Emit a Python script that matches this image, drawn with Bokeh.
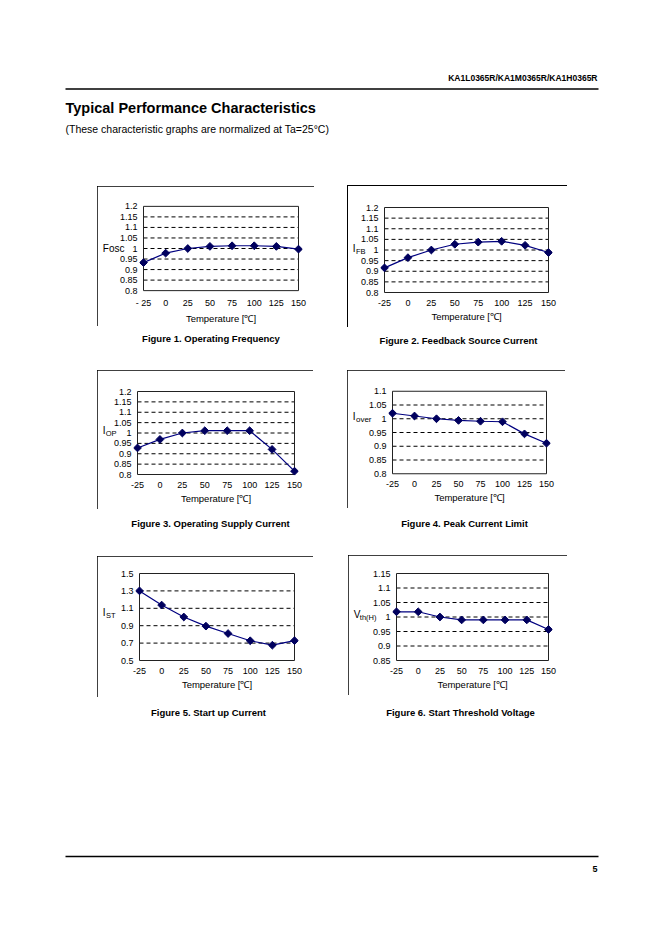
import math
from bokeh.plotting import figure
from bokeh.layouts import column, row
from bokeh.models import Range1d, FixedTicker, NumeralTickFormatter, Label, Spacer, LinearAxis
from bokeh.embed import file_html
from bokeh.resources import INLINE

# ---------------- data ----------------
temps = [-25, 0, 25, 50, 75, 100, 125, 150]
temp_labels = ["-25", "0", "25", "50", "75", "100", "125", "150"]
temp_labels_fig1 = ["- 25", "0", "25", "50", "75", "100", "125", "150"]

fosc = [0.933, 0.978, 1.0, 1.010, 1.013, 1.013, 1.010, 0.997]
ifb = [0.916, 0.964, 1.0, 1.027, 1.037, 1.041, 1.022, 0.988]
iop = [0.928, 0.969, 1.0, 1.011, 1.011, 1.011, 0.921, 0.816]
iover = [1.020, 1.010, 1.0, 0.994, 0.991, 0.989, 0.945, 0.911]
ist = [1.300, 1.137, 1.0, 0.895, 0.810, 0.727, 0.676, 0.728]
vth = [1.018, 1.018, 1.0, 0.990, 0.990, 0.990, 0.990, 0.957]

yticks_12 = [0.8, 0.85, 0.9, 0.95, 1.0, 1.05, 1.1, 1.15, 1.2]
yticks_11 = [0.8, 0.85, 0.9, 0.95, 1.0, 1.05, 1.1]
yticks_15 = [0.5, 0.7, 0.9, 1.1, 1.3, 1.5]
yticks_115 = [0.85, 0.9, 0.95, 1.0, 1.05, 1.1, 1.15]

header_text = "KA1L0365R/KA1M0365R/KA1H0365R"
title_text = "Typical Performance Characteristics"
subtitle_text = "(These characteristic graphs are normalized at Ta=25°C)"
xlabel_text = "Temperature [℃]"
captions = ["Figure 1. Operating Frequency", "Figure 2. Feedback Source Current",
            "Figure 3. Operating Supply Current", "Figure 4. Peak Current Limit",
            "Figure 5. Start up Current", "Figure 6. Start Threshold Voltage"]
page_number = "5"

# ---------------- style ----------------
FONT = "Liberation Sans"
NAVY = "#000080"
MARK = "#00005e"
PAD = 4          # px of frame padding around the plot area so end markers are not clipped
TICK_FS = 9      # tick label font size (px)
TICK_ST = 2      # y tick label standoff (px)
AXIS_EXTRA = 3.6 # extra px that each stacked left axis occupies beyond standoff + text

# Arial / Liberation Sans advance widths (em) for width estimates
ADV = {"F": .611, "o": .556, "s": .5, "c": .5, "I": .278, "B": .667, "O": .778, "P": .667,
       "v": .5, "e": .556, "r": .333, "S": .667, "T": .611, "V": .667, "t": .278, "h": .556,
       "(": .333, ")": .333, "H": .722, ".": .278}


def text_w(txt, size):
    return sum(ADV.get(ch, .556) for ch in txt) * size


def chart(box, plot, ys, yticks, xlabels, ylab, border="full"):
    bx0, by0, bx1, by1 = box
    px0, py0, px1, py1 = plot
    w, h = bx1 - bx0, by1 - by0
    xmin, xmax = min(temps), max(temps)
    ymin, ymax = yticks[0], yticks[-1]
    dx = (xmax - xmin) * PAD / (px1 - px0)
    dy = (ymax - ymin) * PAD / (py1 - py0)
    p = figure(width=w, height=h,
               x_range=Range1d(xmin - dx, xmax + dx),
               y_range=Range1d(ymin - dy, ymax + dy),
               output_backend="svg", toolbar_location=None,
               x_axis_type=None, y_axis_type=None,
               min_border_left=px0 - PAD - bx0, min_border_right=bx1 - (px1 + PAD),
               min_border_top=py0 - PAD - by0, min_border_bottom=by1 - (py1 + PAD))
    p.outline_line_color = None
    p.background_fill_color = "white"
    if border == "full":
        p.styles = {"outline": "1px solid #000", "outline-offset": "-1px"}
    else:
        p.border_fill_color = None
        p.styles = {"box-shadow": "inset 1px 1px 0 0 #000"}

    inner = yticks[1:-1]
    p.segment(x0=[xmin] * len(inner), x1=[xmax] * len(inner), y0=inner, y1=inner,
              line_color="black", line_dash="4 3", line_width=1)
    p.quad(left=[xmin], right=[xmax], bottom=[ymin], top=[ymax],
           fill_color=None, line_color="#222222", line_width=1)
    p.line(temps, ys, line_color=NAVY, line_width=1.2)
    p.scatter(temps, ys, marker="square", angle=math.pi / 4, size=5.5,
              fill_color=MARK, line_color=MARK)

    plain = dict(axis_line_color=None, major_tick_line_color=None,
                 minor_tick_line_color=None, major_tick_in=0, major_tick_out=0,
                 minor_tick_in=0, minor_tick_out=0,
                 major_label_text_font=FONT, major_label_text_color="black")

    xaxis = LinearAxis(ticker=FixedTicker(ticks=temps),
                       major_label_overrides=dict(zip(temps, xlabels)),
                       major_label_standoff=3, major_label_text_font_size=f"{TICK_FS}px",
                       axis_label=xlabel_text, axis_label_standoff=2,
                       axis_label_text_font=FONT, axis_label_text_font_size="9.5px",
                       axis_label_text_font_style="normal", axis_label_text_color="black",
                       **plain)
    p.add_layout(xaxis, "below")
    yaxis = LinearAxis(ticker=FixedTicker(ticks=yticks),
                       formatter=NumeralTickFormatter(format="0.[00]"),
                       major_label_standoff=TICK_ST, major_label_text_font_size=f"{TICK_FS}px",
                       **plain)
    p.add_layout(yaxis, "left")

    # y quantity label (main letter + subscript) as extra left axes stacked outward
    # (first added sits nearest the frame, so the rightmost piece goes first).
    frame_left = px0 - PAD
    lead = bx0 + AXIS_EXTRA + 1.4 - ylab[0][1]   # keep the stack inside min_border_left
    if lead > 0:
        ylab = [(t, xr + lead, yr, s) for t, xr, yr, s in ylab]
    edge = frame_left - (TICK_ST + max(text_w(f"{t:g}", TICK_FS) for t in yticks) + AXIS_EXTRA)
    for txt, xr, yr, size in reversed(ylab):
        tw = text_w(txt, size)
        st = int(round(edge - (xr + tw)))
        yd = ymax - (yr - py0) / (py1 - py0) * (ymax - ymin)
        ax = LinearAxis(ticker=FixedTicker(ticks=[yd]), major_label_overrides={yd: txt},
                        major_label_standoff=st, major_label_text_font_size=f"{size}px",
                        **plain)
        p.add_layout(ax, "left")
        edge -= st + tw + AXIS_EXTRA
    return p


def textfig(w, h, labels, segs):
    p = figure(width=w, height=h, x_range=Range1d(0, w), y_range=Range1d(h, 0),
               output_backend="svg", toolbar_location=None,
               x_axis_type=None, y_axis_type=None, min_border=0)
    p.outline_line_color = None
    for txt, x, y, size, bold, align in labels:
        p.add_layout(Label(x=x, y=y, text=txt, text_font=FONT, text_font_size=f"{size}px",
                           text_font_style="bold" if bold else "normal",
                           text_align=align, text_baseline="middle", text_color="black"))
    for x0, y0, x1, y1, lw in segs:
        p.segment(x0=[x0], y0=[y0], x1=[x1], y1=[y1], line_color="black", line_width=lw)
    return p


def chart_row(top, items):
    children = []
    cur_x = 0
    for box, f in items:
        children.append(Spacer(width=box[0] - cur_x, height=1))
        if box[1] > top:
            children.append(column(Spacer(width=box[2] - box[0], height=box[1] - top), f, spacing=0))
        else:
            children.append(f)
        cur_x = box[2]
    return row(children, spacing=0)


# ---------------- charts (page pixel geometry: box, plot area) ----------------
B1, P1 = (97, 186, 314, 326), (143, 206, 298, 293)
B2, P2 = (347, 185, 567, 327), (384, 207, 548, 292)
B3, P3 = (97, 370, 313, 509), (137, 391, 294, 474)
B4, P4 = (347, 370, 565, 508), (392, 389, 546, 477)
B5, P5 = (97, 556, 313, 697), (139, 573, 294, 660)
B6, P6 = (348, 555, 567, 695), (396, 573, 548, 660)

f1 = chart(B1, P1, fosc, yticks_12, temp_labels_fig1, [("Fosc", 100, 249, 10)])
f2 = chart(B2, P2, ifb, yticks_12, temp_labels, [("I", 352, 248, 10), ("FB", 355, 251, 7.5)], border="topleft")
f3 = chart(B3, P3, iop, yticks_12, temp_labels, [("I", 101, 430, 10), ("OP", 104, 432.5, 7.5)])
f4 = chart(B4, P4, iover, yticks_11, temp_labels, [("I", 351.5, 416, 10), ("over", 354.5, 419, 8)])
f5 = chart(B5, P5, ist, yticks_15, temp_labels, [("I", 100, 612, 10), ("ST", 103, 615, 7.5)])
f6 = chart(B6, P6, vth, yticks_115, temp_labels, [("V", 352.5, 614, 10), ("th(H)", 358.5, 617, 7.5)])

W = 640
header = textfig(W, 185,
                 [(header_text, 597, 77, 8.5, True, "right"),
                  (title_text, 65, 107, 14.5, True, "left"),
                  (subtitle_text, 65, 128, 10.5, False, "left")],
                 [(65, 88.5, 598, 88.5, 1.5)])
capA = textfig(W, 43, [(captions[0], 210.5, 11, 9.5, True, "center"),
                       (captions[1], 458, 13, 9.5, True, "center")], [])
capB = textfig(W, 46, [(captions[2], 210, 14, 9.5, True, "center"),
                       (captions[3], 464, 14, 9.5, True, "center")], [])
footer = textfig(W, 231, [(captions[4], 208, 15, 9.5, True, "center"),
                          (captions[5], 460, 15, 9.5, True, "center"),
                          (page_number, 597, 171, 9, True, "right")],
                 [(65, 159, 598, 159, 1.5)])

layout = column(header,
                chart_row(185, [(B1, f1), (B2, f2)]),
                capA,
                chart_row(370, [(B3, f3), (B4, f4)]),
                capB,
                chart_row(555, [(B5, f5), (B6, f6)]),
                footer, spacing=0)

open("out.html", "w").write(file_html(layout, INLINE))
